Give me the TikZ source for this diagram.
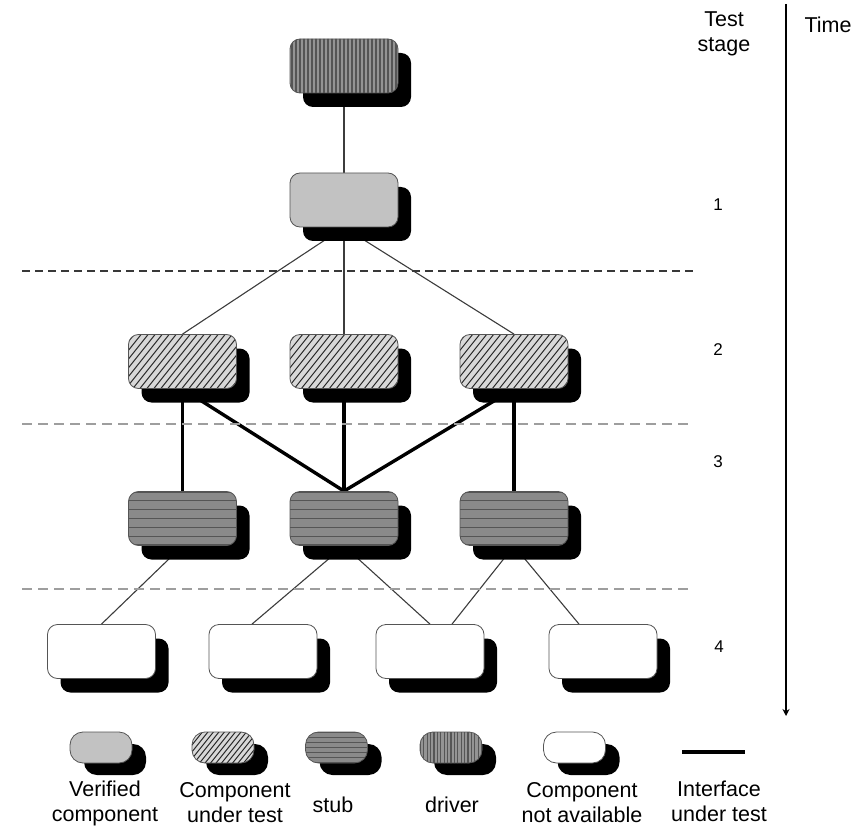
\documentclass[tikz,border=0pt]{standalone}
\usepackage{fontspec}
\setmainfont{Liberation Sans}
\usetikzlibrary{calc,arrows.meta}
\pgfdeclarelayer{bg}
\pgfsetlayers{bg,main}

\definecolor{vgray}{HTML}{C2C2C2}
\definecolor{hgray}{HTML}{D8D8D8}
\definecolor{sgray}{HTML}{8A8A8A}
\definecolor{dgray}{HTML}{949494}
\definecolor{edge}{HTML}{555555}
\definecolor{wire}{HTML}{3C3C3C}

\tikzset{
  comp/.style={draw=edge, line width=0.8pt, rounded corners=10pt,
    minimum width=108pt, minimum height=54pt, inner sep=0pt},
  pill/.style={draw=edge, line width=0.8pt, rounded corners=13pt,
    minimum width=62pt, minimum height=31pt, inner sep=0pt},
  verified/.style={fill=vgray},
  notavail/.style={fill=white},
  undertest/.style={fill=hgray, path picture={
      \coordinate (pc) at (path picture bounding box.center);
      \foreach \i in {-18,...,18}
        \draw[line width=0.95pt, black!85] ($(pc)+({\i*#1-24},30)$) -- ($(pc)+({\i*#1+24},-30)$);}},
  undertest/.default=7,
  stubfill/.style={fill=sgray, path picture={
      \coordinate (pc) at (path picture bounding box.center);
      \foreach \i in {-3,...,3}
        \draw[line width=1pt] ($(pc)+(-60,{\i*#1})$) -- ($(pc)+(60,{\i*#1})$);}},
  stubfill/.default=8.8,
  drvfill/.style={fill=dgray, path picture={
      \coordinate (pc) at (path picture bounding box.center);
      \foreach \i in {-16,...,16}
        \draw[line width=1.15pt] ($(pc)+({\i*#1},-30)$) -- ($(pc)+({\i*#1},30)$);}},
  drvfill/.default=4,
  thin/.style={draw=wire, line width=1.1pt},
  thick/.style={draw=black, line width=3.4pt},
  stagerule/.style={line width=2pt, draw=#1},
  label/.style={font=\fontsize{21.5}{25}\selectfont, align=center, inner sep=0pt},
  stagenum/.style={font=\fontsize{17}{20}\selectfont, inner sep=0pt}
}

% component box with its black drop shadow
\newcommand\cbox[4]{%
  \fill[black, rounded corners=10pt] ($(#2,#3)+(-41,-13)$) rectangle ++(108,54);
  \node[comp,#4] (#1) at (#2,#3) {};}
% small legend box with its shadow
\newcommand\lbox[4]{%
  \fill[black, rounded corners=13pt] ($(#2,#3)+(-17,-3.5)$) rectangle ++(62,31);
  \node[pill,#4] (#1) at (#2,#3) {};}

\begin{document}
\begin{tikzpicture}[x=1pt,y=-1pt]
\useasboundingbox (0,0) rectangle (865,829);

% stage separators
\draw[stagerule=black!78, dash pattern=on 8pt off 5pt] (22,271) -- (694,271);
\draw[stagerule=black!38, dash pattern=on 10pt off 6pt] (22,424) -- (694,424);
\draw[stagerule=black!38, dash pattern=on 10pt off 6pt] (22,589) -- (694,589);

% components
\cbox{drv}{344}{66}{drvfill}
\cbox{ver}{344}{200}{verified}
\cbox{ta}{182.5}{361.5}{undertest}
\cbox{tb}{344}{361.5}{undertest}
\cbox{tc}{514}{361.5}{undertest}
\cbox{sa}{182.5}{518.5}{stubfill}
\cbox{sb}{344}{518.5}{stubfill}
\cbox{sc}{514}{518.5}{stubfill}
\cbox{na}{101.5}{651.5}{notavail}
\cbox{nb}{263}{651.5}{notavail}
\cbox{nc}{430}{651.5}{notavail}
\cbox{nd}{603}{651.5}{notavail}

% interfaces, drawn beneath the boxes
\begin{pgfonlayer}{bg}
  \draw[thin] (drv.south) -- (ver.north);
  \draw[thin] (ver.south) -- (ta.north);
  \draw[thin] (ver.south) -- (tb.north);
  \draw[thin] (ver.south) -- (tc.north);
  \draw[thick] (ta.south) -- (sa.north);
  \draw[thick] (ta.south) -- (sb.north);
  \draw[thick] (tb.south) -- (sb.north);
  \draw[thick] (tc.south) -- (sb.north);
  \draw[thick] (tc.south) -- (sc.north);
  \draw[thin] (sa.south) -- (na.north);
  \draw[thin] (sb.south) -- ([xshift=-11pt]nb.north);
  \draw[thin] (sb.south) -- (nc.north);
  \draw[thin] (sc.south) -- ([xshift=22pt]nc.north);
  \draw[thin] (sc.south) -- ([xshift=-24pt]nd.north);
\end{pgfonlayer}

% stage column and time axis
\node[label] (stagehead) at (724,34) {Test\\stage};
\node[label] (timehead) at (828,25) {Time};
\node[stagenum] (st1) at (718,205) {1};
\node[stagenum] (st2) at (718,350) {2};
\node[stagenum] (st3) at (718,462) {3};
\node[stagenum] (st4) at (719,647) {4};
\coordinate (tstart) at (786,4);
\coordinate (tend) at (786,716);
\draw[line width=1.1pt, -{Stealth[length=7pt,width=7pt]}] (tstart) -- (tend);

% legend
\lbox{lver}{101}{747.5}{verified}
\lbox{lut}{223}{747.5}{undertest=5.5}
\lbox{lstub}{336.5}{747.5}{stubfill=5}
\lbox{ldrv}{451}{747.5}{drvfill=3.4}
\lbox{lna}{574.5}{747.5}{notavail}
\coordinate (ifa) at (682,752);
\coordinate (ifb) at (745,752);
\draw[thick] (ifa) -- (ifb);

\node[label] (tver) at (105,803) {Verified\\component};
\node[label] (tut) at (235,803) {Component\\under test};
\node[label] (tstub) at (333,805) {stub};
\node[label] (tdrv) at (452,805) {driver};
\node[label] (tna) at (582,803) {Component\\not available};
\node[label] (tif) at (719,801) {Interface\\under test};
\end{tikzpicture}
\end{document}
